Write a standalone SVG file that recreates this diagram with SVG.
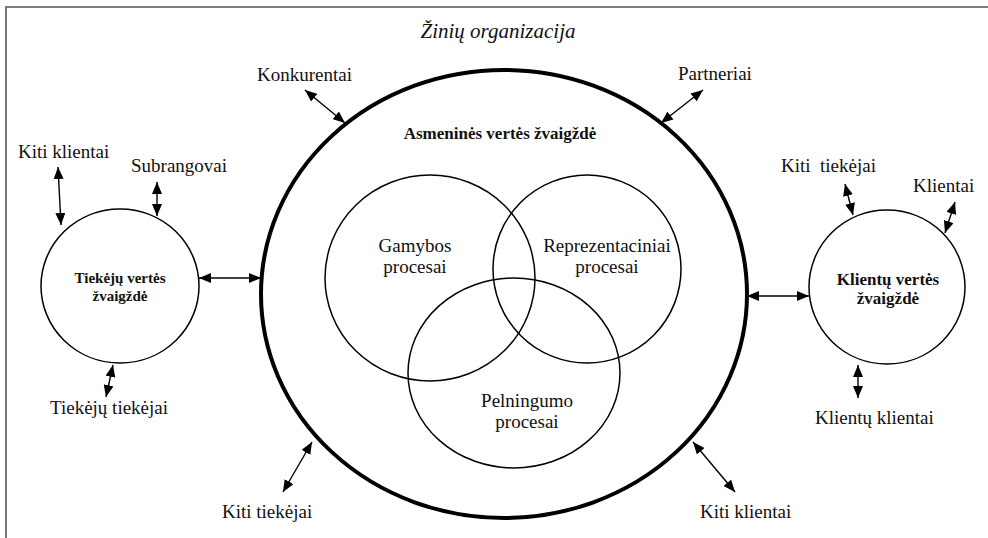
<svg xmlns="http://www.w3.org/2000/svg" width="988" height="538" viewBox="0 0 988 538">
<defs>
<marker id="ah" viewBox="0 0 12 10" refX="12" refY="5" markerWidth="12" markerHeight="10" markerUnits="userSpaceOnUse" orient="auto-start-reverse">
<path d="M0,0 L12,5 L0,10 Z" fill="#000"/>
</marker>
</defs>
<style>
text{font-family:"Liberation Serif","Times New Roman",serif;fill:#111;}
.lbl{font-size:19px;white-space:pre;}
.in{font-size:19px;text-anchor:middle;}
.b{font-weight:bold;text-anchor:middle;}
.c{fill:none;stroke:#000;stroke-width:1.5;}
.arr{stroke:#000;stroke-width:1.4;fill:none;marker-start:url(#ah);marker-end:url(#ah);}
</style>
<rect width="988" height="538" fill="#fff"/>
<g id="frame">
<path d="M6,538 L6,7 L988,7" fill="none" stroke="#555" stroke-width="1.6"/>
<text x="498" y="38" style="font-size:21px;font-style:italic;text-anchor:middle">Žinių organizacija</text>
</g>
<g id="asmenines">
<ellipse cx="504" cy="294" rx="243" ry="224" fill="none" stroke="#000" stroke-width="4"/>
<text x="500" y="139" class="b" style="font-size:17px">Asmeninės vertės žvaigždė</text>
</g>
<g id="gamybos">
<ellipse cx="430" cy="278" rx="105" ry="103" class="c"/>
<text x="415" y="252" class="in">Gamybos</text>
<text x="415" y="273" class="in">procesai</text>
</g>
<g id="reprezentaciniai">
<ellipse cx="587" cy="269" rx="94" ry="94" class="c"/>
<text x="607" y="252" class="in">Reprezentaciniai</text>
<text x="607" y="273" class="in">procesai</text>
</g>
<g id="pelningumo">
<ellipse cx="514" cy="373" rx="106" ry="95" class="c"/>
<text x="527" y="407" class="in">Pelningumo</text>
<text x="527" y="428" class="in">procesai</text>
</g>
<g id="tiekeju">
<ellipse cx="120" cy="286" rx="79" ry="77" class="c"/>
<text x="120" y="283" class="b" style="font-size:15px">Tiekėjų vertės</text>
<text x="120" y="301" class="b" style="font-size:15px">žvaigždė</text>
</g>
<g id="klientu">
<ellipse cx="887" cy="287" rx="78" ry="77" class="c"/>
<text x="888" y="285" class="b" style="font-size:17px">Klientų vertės</text>
<text x="888" y="304" class="b" style="font-size:17px">žvaigždė</text>
</g>
<g id="labels">
<text x="257" y="81" class="lbl">Konkurentai</text>
<text x="678" y="80" class="lbl">Partneriai</text>
<text x="18" y="158" class="lbl">Kiti klientai</text>
<text x="131" y="172" class="lbl">Subrangovai</text>
<text x="781" y="172" class="lbl">Kiti  tiekėjai</text>
<text x="913" y="192" class="lbl">Klientai</text>
<text x="50" y="414" class="lbl">Tiekėjų tiekėjai</text>
<text x="222" y="518" class="lbl">Kiti tiekėjai</text>
<text x="815" y="424" class="lbl">Klientų klientai</text>
<text x="700" y="518" class="lbl">Kiti klientai</text>
</g>
<g id="connectors">
<line class="arr" x1="305" y1="90" x2="345" y2="123"/>
<line class="arr" x1="703" y1="90" x2="661" y2="123"/>
<line class="arr" x1="58" y1="167" x2="61" y2="225"/>
<line class="arr" x1="157" y1="182" x2="157" y2="216"/>
<line class="arr" x1="199" y1="278" x2="261" y2="278"/>
<line class="arr" x1="747" y1="296" x2="809" y2="296"/>
<line class="arr" x1="845" y1="184" x2="853" y2="215"/>
<line class="arr" x1="955" y1="202" x2="945" y2="233"/>
<line class="arr" x1="113" y1="365" x2="106" y2="397"/>
<line class="arr" x1="312" y1="442" x2="283" y2="492"/>
<line class="arr" x1="858" y1="365" x2="858" y2="398"/>
<line class="arr" x1="693" y1="442" x2="735" y2="492"/>
</g>
</svg>
